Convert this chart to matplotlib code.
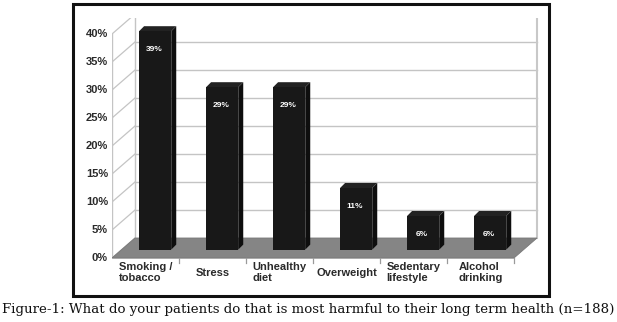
import matplotlib
matplotlib.use("Agg")
import matplotlib.pyplot as plt
from matplotlib.patches import Polygon, Rectangle
from matplotlib.lines import Line2D

# ---- data ----
categories = ["Smoking /\ntobacco", "Stress", "Unhealthy\ndiet", "Overweight",
              "Sedentary\nlifestyle", "Alcohol\ndrinking"]
values = [39, 29, 29, 11, 6, 6]
value_labels = ["39%", "29%", "29%", "11%", "6%", "6%"]
ytick_values = [0, 5, 10, 15, 20, 25, 30, 35, 40]
ytick_labels = ["0%", "5%", "10%", "15%", "20%", "25%", "30%", "35%", "40%"]
caption = "Figure-1: What do your patients do that is most harmful to their long term health (n=188)"

W, H = 617, 322
fig = plt.figure(figsize=(W / 100, H / 100), dpi=100)

# axes spanning the front plane of the 3D box
left_px, right_px, bot_px, top_px = 112, 540, 258, 18
ax = fig.add_axes([left_px / W, 1 - bot_px / H, (right_px - left_px) / W, (bot_px - top_px) / H])
xpx_per_unit = 67.0
ypx_per_unit = 5.6
x0 = -0.5
ax.set_xlim(x0, x0 + (right_px - left_px) / xpx_per_unit)
ax.set_ylim(0, (bot_px - top_px) / ypx_per_unit)
ax.axis("off")

n = len(categories)
DX, DY = 23 / xpx_per_unit, 20 / ypx_per_unit  # depth vector
ymax = ytick_values[-1]
xl, xr = -0.5, n - 0.5
grid_c = "#c4c4c4"

# back wall (white) and walls outlines
ax.add_patch(Polygon([(xl + DX, DY), (xr + DX, DY), (xr + DX, ymax + DY), (xl + DX, ymax + DY)],
                     closed=True, facecolor="white", edgecolor="none", zorder=0))
for v in ytick_values[1:]:
    c = grid_c if v < ymax else "#d2d2d2"
    ax.add_line(Line2D([xl + DX, xr + DX], [v + DY, v + DY], color=c, lw=1.0, zorder=1))
# side wall diagonals
for v in ytick_values:
    ax.add_line(Line2D([xl, xl + DX], [v, v + DY], color=grid_c, lw=0.9, zorder=1))
ax.add_line(Line2D([xl, xl], [0, ymax], color=grid_c, lw=1.0, zorder=1))
ax.add_line(Line2D([xl + DX, xl + DX], [DY, ymax + DY], color=grid_c, lw=1.0, zorder=1))
ax.add_line(Line2D([xr + DX, xr + DX], [DY, ymax + DY], color="#c8c8c8", lw=1.5, zorder=1))

# floor
ax.add_patch(Polygon([(xl, 0), (xr, 0), (xr + DX, DY), (xl + DX, DY)], closed=True,
                     facecolor="#858585", edgecolor="#777777", lw=0.6, zorder=2))

# x tick marks on front edge
for k in range(1, n + 1):
    ax.add_line(Line2D([xl + k, xl + k], [0, -0.9], color="#9a9a9a", lw=0.9, zorder=2, clip_on=False))
ax.add_line(Line2D([xl, xr], [0, 0], color="#9a9a9a", lw=0.6, zorder=2, clip_on=False))

# bars
f = 0.42
bw = 0.48
bx, by = 5 / xpx_per_unit, 5 / ypx_per_unit
for i, v in enumerate(values):
    a = i - bw / 2 + f * DX
    b = i + bw / 2 + f * DX
    yb = f * DY
    yt = v + f * DY
    # side face
    ax.add_patch(Polygon([(b, yb), (b + bx, yb + by), (b + bx, yt + by), (b, yt)], closed=True,
                         facecolor="#0e0e0e", edgecolor="none", zorder=3))
    # top face
    ax.add_patch(Polygon([(a, yt), (b, yt), (b + bx, yt + by), (a + bx, yt + by)], closed=True,
                         facecolor="#222222", edgecolor="none", zorder=3))
    # front face
    ax.add_patch(Rectangle((a, yb), b - a, v, facecolor="#181818", edgecolor="none", zorder=4))
    ax.text((a + b) / 2 - 0.02, yt - 3.3, value_labels[i], color="white", fontsize=6,
            fontweight="bold", ha="center", va="center", family="Liberation Sans", zorder=5)

# y tick labels
for v, lab in zip(ytick_values, ytick_labels):
    ax.text(xl - 0.06, v, lab, ha="right", va="center", fontsize=8, color="#2a2a2a",
            family="Liberation Sans", fontweight="bold")

# category labels
for i, lab in enumerate(categories):
    ax.text(i, -2.6, lab, ha="center", va="center", multialignment="left", fontsize=8,
            color="#2a2a2a", family="Liberation Sans", fontweight="bold", linespacing=1.05)

# outer border
fig.add_artist(Rectangle((73 / W, 1 - 296 / H), (549 - 73) / W, (296 - 4) / H,
                         transform=fig.transFigure, fill=False, edgecolor="#111111", lw=2.2))

# caption fitted to width
t = fig.text(0.5, 1 - 309 / H, caption, ha="center", va="center", fontsize=12,
             family="DejaVu Serif", color="#111111")
r = fig.canvas.get_renderer()
w = t.get_window_extent(renderer=r).width
t.set_fontsize(12 * 612 / w)

fig.savefig("out.png", dpi=100)
